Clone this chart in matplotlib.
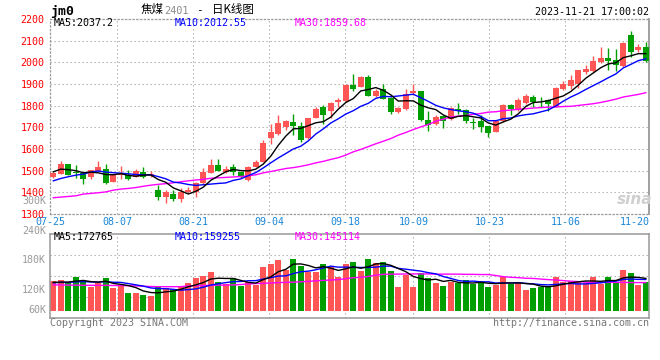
import numpy as np
import pandas as pd
import matplotlib
matplotlib.use('Agg')
import matplotlib.pyplot as plt
import matplotlib.transforms as mtransforms

plt.rcParams['font.family'] = ['DejaVu Sans Mono', 'Noto Sans CJK SC']

# daily candles, 2023-07-25 .. 2023-11-21
open_ = [1470, 1485, 1530, 1492, 1487, 1473, 1498, 1506, 1449, 1480,
         1482, 1473, 1495, 1482, 1410, 1377, 1392, 1369, 1400, 1400,
         1441, 1490, 1526, 1495, 1518, 1495, 1457, 1518, 1541, 1651,
         1671, 1702, 1724, 1705, 1651, 1745, 1794, 1776, 1818, 1822,
         1894, 1886, 1932, 1843, 1875, 1837, 1771, 1783, 1858, 1868,
         1736, 1717, 1751, 1737, 1786, 1782, 1722, 1728, 1705, 1679,
         1728, 1802, 1779, 1812, 1840, 1818, 1825, 1794, 1875, 1889,
         1898, 1955, 1958, 2001, 2020, 2013, 1982, 2124, 2055, 2070]
close = [1490, 1533, 1482, 1487, 1461, 1502, 1518, 1443, 1482, 1486,
         1463, 1497, 1469, 1486, 1380, 1400, 1368, 1400, 1413, 1443,
         1495, 1526, 1500, 1510, 1496, 1470, 1518, 1541, 1628, 1679,
         1720, 1730, 1707, 1641, 1741, 1786, 1756, 1812, 1824, 1895,
         1877, 1932, 1845, 1868, 1833, 1771, 1789, 1852, 1866, 1733,
         1710, 1748, 1729, 1789, 1777, 1728, 1720, 1702, 1674, 1728,
         1802, 1783, 1825, 1845, 1818, 1816, 1810, 1883, 1898, 1919,
         1963, 1971, 2004, 2020, 2005, 1990, 2089, 2047, 2069, 2005]
high = [1495, 1545, 1531, 1525, 1490, 1505, 1545, 1530, 1484, 1521,
        1502, 1507, 1518, 1499, 1435, 1412, 1410, 1418, 1426, 1446,
        1513, 1556, 1552, 1521, 1533, 1500, 1520, 1549, 1641, 1717,
        1756, 1734, 1760, 1725, 1745, 1794, 1802, 1817, 1837, 1899,
        1945, 1937, 1940, 1878, 1899, 1840, 1795, 1879, 1902, 1870,
        1774, 1755, 1754, 1792, 1814, 1785, 1741, 1756, 1708, 1733,
        1806, 1806, 1837, 1852, 1848, 1840, 1829, 1886, 1912, 1940,
        1966, 1986, 2027, 2073, 2066, 2063, 2092, 2143, 2086, 2093]
low = [1465, 1483, 1478, 1464, 1437, 1460, 1495, 1440, 1447, 1460,
       1458, 1470, 1466, 1470, 1365, 1352, 1360, 1357, 1395, 1380,
       1438, 1487, 1497, 1487, 1480, 1466, 1452, 1515, 1538, 1625,
       1665, 1687, 1664, 1633, 1648, 1741, 1717, 1741, 1795, 1818,
       1870, 1884, 1843, 1840, 1830, 1763, 1768, 1779, 1848, 1730,
       1684, 1713, 1697, 1735, 1760, 1720, 1691, 1679, 1656, 1677,
       1726, 1756, 1776, 1808, 1794, 1794, 1774, 1792, 1872, 1879,
       1883, 1948, 1955, 1998, 1966, 1958, 1978, 2024, 2050, 2000]
volume = [151500, 156600, 142800, 171900, 156600, 122400, 142800, 166800, 115800, 131100,
          91800, 91800, 80100, 76500, 122400, 117300, 110700, 126000, 142800, 168300,
          178500, 198900, 147900, 136200, 168300, 129000, 147900, 131100, 224400, 238200,
          260100, 209100, 263700, 229500, 198900, 198900, 239700, 224400, 173400, 239700,
          248400, 204000, 263700, 244800, 248400, 204000, 122400, 183600, 122400, 193800,
          168300, 142800, 127500, 147900, 142800, 156600, 139200, 146400, 122400, 132600,
          173400, 139200, 147900, 107100, 117300, 122400, 122400, 173400, 147900, 153000,
          147900, 142800, 173400, 139200, 173400, 147900, 210600, 193800, 131100, 147900]

# closes / volumes of the days before the window (for the moving averages)
prev_close = [1423, 1402, 1415, 1410, 1407, 1470, 1495, 1510, 1508]
prev_volume = [139000, 145000, 141000, 146000, 139000, 150000, 142000, 147000, 139500]

# 30-day averages
ma30 = [1375, 1378, 1381, 1384, 1392, 1395, 1398, 1402, 1410, 1415,
        1418, 1422, 1428, 1433, 1437, 1440, 1444, 1449, 1453, 1457,
        1460, 1465, 1467, 1469, 1471, 1473, 1476, 1481, 1490, 1496,
        1503, 1510, 1514, 1520, 1527, 1536, 1543, 1552, 1560, 1572,
        1587, 1598, 1611, 1624, 1636, 1648, 1664, 1676, 1690, 1702,
        1713, 1728, 1738, 1748, 1752, 1755, 1760, 1764, 1770, 1772,
        1777, 1780, 1783, 1786, 1789, 1791, 1793, 1794, 1796, 1797,
        1801, 1805, 1809, 1815, 1822, 1830, 1840, 1846, 1852, 1859.68]
vol_ma30_k = [133, 133, 132, 132, 131, 131, 131, 131, 130, 130,
              129, 128, 126, 125, 124, 124, 124, 124, 128, 129,
              130, 131, 132, 132, 133, 135, 138, 140, 141, 143,
              145, 146, 147, 149, 151, 154, 156, 158, 160, 165,
              170, 172, 176, 183, 187, 188, 188, 189, 189, 189,
              189, 188, 188, 188, 188, 187, 187, 186, 186, 181,
              175, 172, 170, 167, 166, 163, 160, 158, 155, 152,
              150, 147, 145, 145, 146, 146, 146, 145, 145, 145.1]

date_labels = ['07-25', '08-07', '08-21', '09-04', '09-18', '10-09', '10-23', '11-06', '11-20']
date_idx = [0, 9, 19, 29, 39, 48, 58, 68, 78]
price_ticks = [1300, 1400, 1500, 1600, 1700, 1800, 1900, 2000, 2100, 2200]
vol_tick_k = [60, 120, 180, 240, 300]

ma_price_text = {'MA5': 2037.2, 'MA10': 2012.55, 'MA30': 1859.68}
ma_vol_text = {'MA5': 172765, 'MA10': 159255, 'MA30': 145114}

RED = '#ff5555'
GREEN = '#009e00'
GRID = '#ababab'
FRAME = '#999999'
MA_COLORS = {'MA5': 'black', 'MA10': '#0000ff', 'MA30': '#ff00ff'}

o = np.array(open_, float)
c = np.array(close, float)
h = np.array(high, float)
l = np.array(low, float)
v = np.array(volume, float)
x = np.arange(len(c))
up = c >= o
cols = np.where(up, RED, GREEN)

closes_all = pd.Series(np.r_[prev_close, c])
ma5 = closes_all.rolling(5).mean().to_numpy()[len(prev_close):]
ma10 = closes_all.rolling(10).mean().to_numpy()[len(prev_close):]
vol_all = pd.Series(np.r_[prev_volume, v])
vma5 = vol_all.rolling(5).mean().to_numpy()[len(prev_volume):]
vma10 = vol_all.rolling(10).mean().to_numpy()[len(prev_volume):]
vma30 = np.array(vol_ma30_k) * 1000

W, H = 660, 360
def fx(px): return px / W
def fy(py): return 1 - py / H

fig = plt.figure(figsize=(6.6, 3.6), dpi=100)
fig.patch.set_facecolor('white')
L, R = 50, 649.3
ax = fig.add_axes([fx(L), fy(214), fx(R) - fx(L), fy(19) - fy(214)])
axv = fig.add_axes([fx(L), fy(318), fx(R) - fx(L), fy(234) - fy(318)])

xl = ((L - 53.3) / 7.5, (R - 53.3) / 7.5)
grid_kw = dict(color=GRID, lw=0.8, ls=(0, (1.2, 2.4)), zorder=0)
gx = (np.array(date_idx) * 7.6 - 4.7) / 7.5

# ---- price panel
for p in price_ticks[1:-1]:
    ax.axhline(p, **grid_kw)
for g in gx:
    if xl[0] + 1 < g < xl[1] - 2:
        ax.axvline(g, **grid_kw)
        axv.axvline(g, **grid_kw)

ax.vlines(x, l, h, colors=cols, lw=1.0, zorder=2)
body = np.maximum(np.abs(c - o), 3)
ax.bar(x, body, bottom=np.minimum(o, c), width=0.8, color=cols, zorder=3)
ax.plot(x, ma30, color=MA_COLORS['MA30'], lw=1.0, zorder=4)
ax.plot(x, ma10, color=MA_COLORS['MA10'], lw=1.0, zorder=4)
ax.plot(x, ma5, color=MA_COLORS['MA5'], lw=1.0, zorder=4)

ax.set_xlim(*xl)
ax.set_ylim(1300, 2200)
ax.set_xticks([])
ax.set_yticks(price_ticks)
ax.tick_params(axis='y', length=0, pad=4, labelcolor='#ff0000', labelsize=7.2)
for s in ['top', 'left', 'bottom']:
    ax.spines[s].set_linestyle((0, (1, 2)))
    ax.spines[s].set_color(FRAME)
    ax.spines[s].set_linewidth(0.9)
ax.spines['right'].set_color(FRAME)
ax.spines['right'].set_linewidth(1.3)

trans = mtransforms.blended_transform_factory(ax.transData, ax.transAxes)
for i, (lab, g) in enumerate(zip(date_labels, gx)):
    if i == len(date_labels) - 1:
        ax.text(1.0, -0.041, lab, transform=ax.transAxes, ha='right', va='center',
                fontsize=7.2, color='#1a86d6', clip_on=False)
    else:
        ax.text(max(g, xl[0]), -0.041, lab, transform=trans, ha='center', va='center',
                fontsize=7.2, color='#1a86d6', clip_on=False)

# ---- volume panel
vlo, vhi = -7 * 5100, 77 * 5100
for f in [0.25, 0.5, 0.75]:
    axv.axhline(vlo + (vhi - vlo) * f, **grid_kw)
axv.bar(x, v, width=0.8, color=cols, zorder=2)
axv.plot(x, vma30, color=MA_COLORS['MA30'], lw=1.0, zorder=3)
axv.plot(x, vma10, color=MA_COLORS['MA10'], lw=1.0, zorder=3)
axv.plot(x, vma5, color=MA_COLORS['MA5'], lw=1.0, zorder=3)
axv.set_xlim(*xl)
axv.set_ylim(vlo, vhi)
axv.set_xticks([])
axv.set_yticks([])
for s in axv.spines.values():
    s.set_color(FRAME)
    s.set_linewidth(1.1)
for k in vol_tick_k:
    f = max(0.333 + (k - 120) / 60 * 0.352, 0.09)
    axv.text(-0.0067, f, f'{k}K', transform=axv.transAxes, ha='right', va='center',
             fontsize=7.2, color='#9a9a9a', clip_on=False)

# ---- texts
xs = [54, 175, 295]
for xp, (name, val) in zip(xs, ma_price_text.items()):
    fig.text(fx(xp), fy(23.5), f'{name}:{val}', fontsize=7.2, color=MA_COLORS[name], va='center')
for xp, (name, val) in zip(xs, ma_vol_text.items()):
    fig.text(fx(xp), fy(237.5), f'{name}:{val}', fontsize=7.2, color=MA_COLORS[name], va='center')

fig.text(fx(50), fy(11), 'jm0', fontsize=9.5, weight='bold', va='center')
fig.text(fx(141), fy(10), '焦煤', fontsize=8.3, family='Noto Sans CJK SC', va='center')
fig.text(fx(164), fy(10.5), '2401', fontsize=7.4, color='#8a8a8a', va='center')
fig.text(fx(196), fy(10), '-', fontsize=8, va='center')
fig.text(fx(212), fy(10), '日K线图', fontsize=8.3, family='Noto Sans CJK SC', va='center')
fig.text(fx(649), fy(12), '2023-11-21 17:00:02', fontsize=7.2, ha='right', va='center')
fig.text(fx(635), fy(199), 'sina', fontsize=11, style='italic', weight='bold',
         family='DejaVu Sans', color='#cfcfcf', ha='center', va='center')
fig.text(fx(50), fy(323.5), 'Copyright 2023 SINA.COM', fontsize=7.2, color='#777777', va='center')
fig.text(fx(649), fy(323.5), 'http://finance.sina.com.cn', fontsize=7.2, color='#777777',
         ha='right', va='center')

fig.savefig('out.png', dpi=100, facecolor='white')
